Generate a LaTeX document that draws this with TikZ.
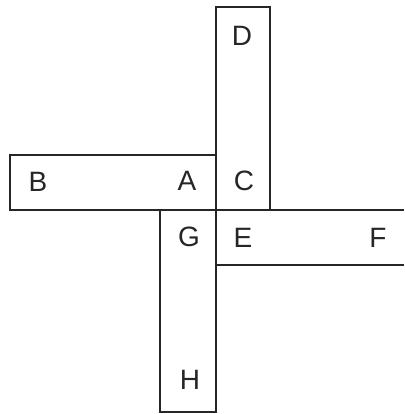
\documentclass[tikz,border=0pt]{standalone}
\usepackage{fontspec}
\setmainfont{Liberation Sans}
\begin{document}
\begin{tikzpicture}[x=1pt,y=-1pt,
  edge/.style={line width=1.5pt,black!85},
  lbl/.style={font=\fontsize{28}{30}\selectfont,text=black!85,inner sep=0pt}]
\useasboundingbox (0,0) rectangle (404,414);
% top vertical strip
\draw[edge] (216,7) rectangle (270,210);
% left horizontal strip
\draw[edge] (216,155) -- (10,155) -- (10,210) -- (216,210);
% right horizontal strip (runs off the right edge)
\draw[edge] (404,210) -- (216,210) -- (216,265) -- (404,265);
% bottom vertical strip
\draw[edge] (160,210) -- (160,412) -- (216,412) -- (216,210);
% labels
\node[lbl] (D) at (242,36) {D};
\node[lbl] (C) at (244,181) {C};
\node[lbl] (B) at (38,182) {B};
\node[lbl] (A) at (187,181) {A};
\node[lbl] (G) at (189,237) {G};
\node[lbl] (E) at (243,238) {E};
\node[lbl] (F) at (378,238) {F};
\node[lbl] (H) at (190,380) {H};
\end{tikzpicture}
\end{document}
